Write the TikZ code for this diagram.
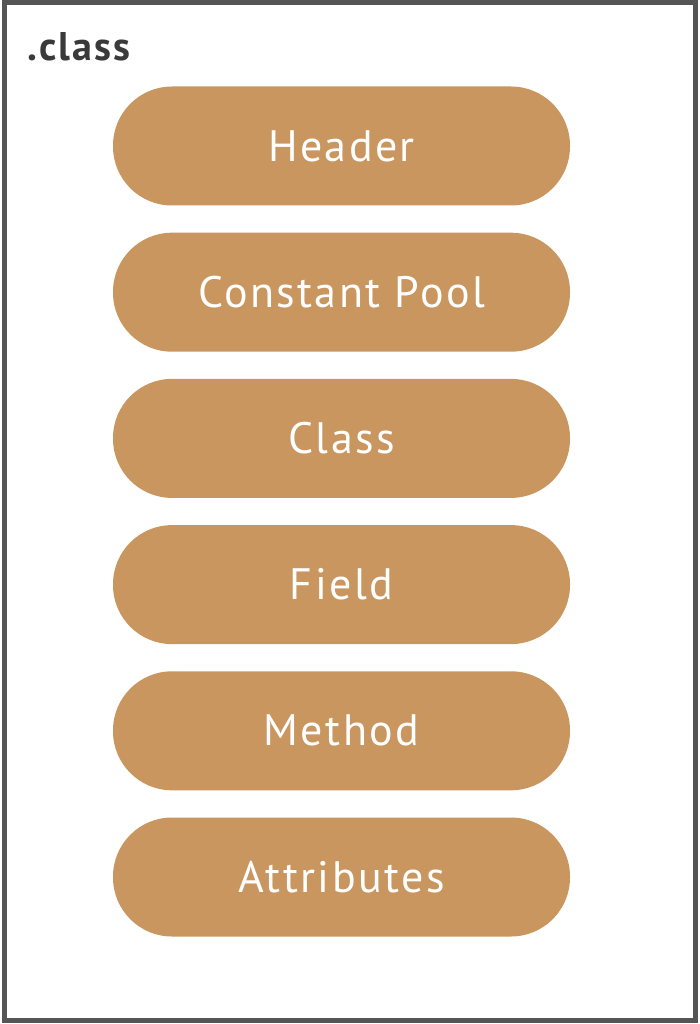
\documentclass[tikz,border=0pt]{standalone}
\usepackage{fontspec}
\setmainfont{PT Sans}
\newfontfamily\pillfont[LetterSpace=5.5]{PT Sans}
\newfontfamily\titlefont[LetterSpace=5.5]{PT Sans Bold}
\definecolor{pill}{HTML}{C9965F}
\definecolor{frame}{HTML}{555555}
\definecolor{label}{HTML}{3A3A3A}
\begin{document}
\begin{tikzpicture}[x=1pt,y=-1pt,
  pillbox/.style={fill=pill, rectangle, rounded corners=59pt, minimum width=457pt, minimum height=119pt,
    inner sep=0pt, text=white, font=\pillfont\fontsize{44}{44}\selectfont}]
\useasboundingbox (0,0) rectangle (700,1024);
\draw[frame, line width=5pt] (4.5,3) rectangle (695.5,1020);
\node[anchor=base west, text=label, font=\titlefont\fontsize{40}{40}\selectfont, inner sep=0pt] (title) at (27,61) {.class};
\foreach \t [count=\i] in {Header,Constant Pool,Class,Field,Method,Attributes}{
  \node[pillbox] (p\i) at (341.5, {146+146.2*(\i-1)}) {\t};
}
\end{tikzpicture}
\end{document}
